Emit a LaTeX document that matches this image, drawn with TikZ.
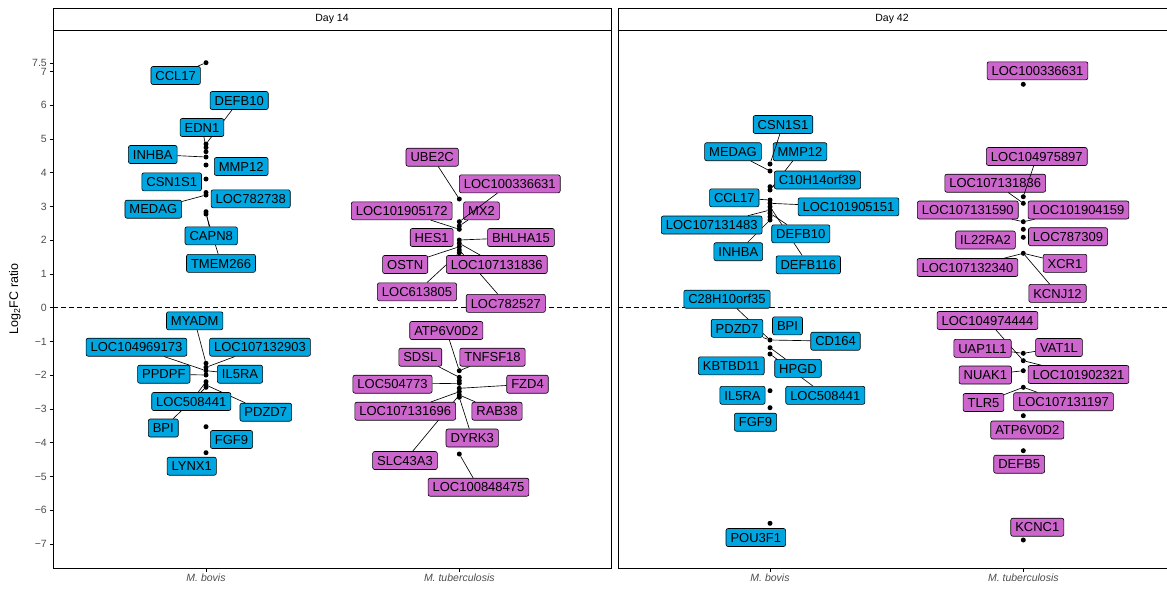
\documentclass[tikz,border=0pt]{standalone}
\usepackage{fontspec}
\setmainfont{Liberation Sans}
\definecolor{cb}{HTML}{00A6E0}
\definecolor{cm}{HTML}{CC66CC}
\definecolor{tickgrey}{HTML}{4D4D4D}
\pgfdeclarelayer{axes}\pgfdeclarelayer{pts}\pgfdeclarelayer{seg}\pgfdeclarelayer{topseg}
\pgfsetlayers{axes,pts,seg,main,topseg}
\tikzset{
 lbl/.style={draw=black, line width=0.6pt, rounded corners=2pt, inner xsep=4.5pt, inner ysep=4.3pt, text height=9.4pt, text depth=0pt, font=\fontsize{13}{13}\selectfont},
 lb/.style={lbl, fill=cb}, lm/.style={lbl, fill=cm},
 dot/.style={circle, fill=black, inner sep=0pt, minimum size=5pt},
 seg/.style={draw=black, line width=0.65pt},
 axis/.style={draw=black, line width=0.9pt},
 ticklab/.style={anchor=east, text=tickgrey, inner sep=0pt, font=\fontsize{10.5}{10.5}\selectfont},
 xlab/.style={anchor=north, text=tickgrey, inner sep=0pt, font=\fontsize{10.5}{10.5}\selectfont\itshape},
 strip/.style={inner sep=0pt, font=\fontsize{10.5}{10.5}\selectfont},
}
\begin{document}
\begin{tikzpicture}[x=1pt,y=-1pt]
\useasboundingbox (0,0) rectangle (1167,590);
\begin{pgfonlayer}{axes}
 \draw[axis] (53,8) rectangle (611,30);
 \draw[axis] (618,8) -- (1175,8) (618,8) -- (618,30) -- (1175,30);
 \draw[axis] (53,30) -- (53,568) -- (611,568) -- (611,30);
 \draw[axis] (618,30) -- (618,568) -- (1175,568);
 \draw[line width=0.7pt, dash pattern=on 4.5pt off 3.5pt] (53,307.7) -- (611,307.7);
 \draw[line width=0.7pt, dash pattern=on 4.5pt off 3.5pt] (618,307.7) -- (1175,307.7);
 \node[strip] (s1) at (332,19) {Day 14};
 \node[strip] (s2) at (892,19) {Day 42};
 \foreach \v/\t in {-7/−7,-6/−6,-5/−5,-4/−4,-3/−3,-2/−2,-1/−1,0/0,1/1,2/2,3/3,4/4,5/5,6/6,7/7}{
   \draw[axis, line width=0.6pt] (50,{307.7-33.75*\v}) -- (53,{307.7-33.75*\v});
   \node[ticklab] (yt\v) at (47,{307.7-33.75*\v}) {\t};
 }
 \draw[axis, line width=0.6pt] (50,63) -- (53,63);
 \node[ticklab] (yt75) at (47,63) {7.5};
 \foreach \x/\n in {206/xa,459.3/xb,770/xc,1023.3/xd}{
   \draw[axis, line width=0.6pt] (\x,568) -- (\x,571.5);
 }
 \node[xlab] (xla) at (206,573.5) {M. bovis};
 \node[xlab] (xlb) at (459.3,573.5) {M. tuberculosis};
 \node[xlab] (xlc) at (770,573.5) {M. bovis};
 \node[xlab] (xld) at (1023.3,573.5) {M. tuberculosis};
 \node[rotate=90, inner sep=0pt, font=\fontsize{12.5}{12.5}\selectfont] (ytitle) at (15,299) {Log\textsubscript{2}FC ratio};
\end{pgfonlayer}
\begin{pgfonlayer}{pts}
 \foreach \n/\y in {a1/62.7,a2/144,a3/147.5,a4/151.7,a5/157,a6/165,a7/179,a8/192.5,a9/195,a10/211.7,a11/214,a12/363.3,a13/367.3,a14/370.7,a15/375,a16/381.7,a17/385,a18/387.3,a19/426.7,a20/452.7}
   \node[dot] (\n) at (206,\y) {};
 \foreach \n/\y in {b1/199,b2/221.7,b3/226,b4/229.3,b5/240,b6/243.3,b7/246.7,b8/250,b9/252.7,b10/370.7,b11/377.3,b12/380.7,b13/383.3,b14/388.3,b15/391.7,b16/395,b17/397.3,b18/454}
   \node[dot] (\n) at (459.3,\y) {};
 \foreach \n/\y in {c1/164,c2/171,c3/186.7,c4/190,c5/200,c6/203.3,c7/206.7,c8/210,c9/213.3,c10/216.7,c11/220,c12/340,c13/347.7,c14/354,c15/390.7,c16/407.7,c17/523.3}
   \node[dot] (\n) at (770,\y) {};
 \foreach \n/\y in {d1/84.3,d2/196.7,d3/203.3,d4/221.7,d5/229.3,d6/237.3,d7/253.3,d8/353.3,d9/360.7,d10/370.7,d11/387.3,d12/415.7,d13/450.7,d14/540}
   \node[dot] (\n) at (1023.3,\y) {};
\end{pgfonlayer}
% ---- Day 14, M. bovis
\node[lb] (aCCL17) at (175.7,75.5) {CCL17};
\node[lb] (aDEFB10) at (239.2,100.5) {DEFB10};
\node[lb] (aEDN1) at (202,127.5) {EDN1};
\node[lb] (aINHBA) at (152.8,154.5) {INHBA};
\node[lb] (aMMP12) at (241.2,166.5) {MMP12};
\node[lb] (aCSN1S1) at (171.7,181.8) {CSN1S1};
\node[lb] (aLOC782738) at (250.7,198.8) {LOC782738};
\node[lb] (aMEDAG) at (153.3,209.2) {MEDAG};
\node[lb] (aCAPN8) at (211.2,235.8) {CAPN8};
\node[lb] (aTMEM266) at (221,263.3) {TMEM266};
\node[lb] (aMYADM) at (194.7,320.8) {MYADM};
\node[lb] (aLOC104969173) at (136.5,347.2) {LOC104969173};
\node[lb] (aLOC107132903) at (260,347.2) {LOC107132903};
\node[lb] (aPPDPF) at (163.8,374.2) {PPDPF};
\node[lb] (aIL5RA) at (240,374.2) {IL5RA};
\node[lb] (aLOC508441) at (191.3,401.5) {LOC508441};
\node[lb] (aPDZD7) at (265.8,412.2) {PDZD7};
\node[lb] (aBPI) at (163.3,428) {BPI};
\node[lb] (aFGF9) at (231.5,439.5) {FGF9};
\node[lb] (aLYNX1) at (191.7,466.2) {LYNX1};
% ---- Day 14, M. tuberculosis
\node[lm] (bUBE2C) at (432.2,157.2) {UBE2C};
\node[lm] (bLOC100336631) at (509.8,183.8) {LOC100336631};
\node[lm] (bLOC101905172) at (401.7,210.8) {LOC101905172};
\node[lm] (bMX2) at (481.5,210.8) {MX2};
\node[lm] (bHES1) at (431.7,237.5) {HES1};
\node[lm] (bBHLHA15) at (521,237.5) {BHLHA15};
\node[lm] (bOSTN) at (405.2,264.5) {OSTN};
\node[lm] (bLOC107131836) at (496.8,264.5) {LOC107131836};
\node[lm] (bLOC613805) at (417,291.8) {LOC613805};
\node[lm] (bLOC782527) at (505.8,303.3) {LOC782527};
\node[lm] (bATP6V0D2) at (446.3,330.5) {ATP6V0D2};
\node[lm] (bSDSL) at (420.3,357.2) {SDSL};
\node[lm] (bTNFSF18) at (492.5,357.2) {TNFSF18};
\node[lm] (bLOC504773) at (392.5,384.2) {LOC504773};
\node[lm] (bFZD4) at (527.5,384.2) {FZD4};
\node[lm] (bLOC107131696) at (405.2,411.2) {LOC107131696};
\node[lm] (bRAB38) at (497,411.2) {RAB38};
\node[lm] (bDYRK3) at (472.2,438) {DYRK3};
\node[lm] (bSLC43A3) at (405,460.5) {SLC43A3};
\node[lm] (bLOC100848475) at (478.5,487.2) {LOC100848475};
% ---- Day 42, M. bovis
\node[lb] (cCSN1S1) at (783,124.5) {CSN1S1};
\node[lb] (cMEDAG) at (733,151.7) {MEDAG};
\node[lb] (cMMP12) at (800,151.7) {MMP12};
\node[lb] (cC10H14orf39) at (817.5,180) {C10H14orf39};
\node[lb] (cCCL17) at (734.3,197.8) {CCL17};
\node[lb] (cLOC101905151) at (848.5,206.8) {LOC101905151};
\node[lb] (cLOC107131483) at (711.7,225) {LOC107131483};
\node[lb] (cDEFB10) at (800.8,233.8) {DEFB10};
\node[lb] (cINHBA) at (738.3,251.7) {INHBA};
\node[lb] (cDEFB116) at (808.3,264.8) {DEFB116};
\node[lb] (cC28H10orf35) at (727,299.2) {C28H10orf35};
\node[lb] (cPDZD7) at (737,328.3) {PDZD7};
\node[lb] (cBPI) at (787.5,325.8) {BPI};
\node[lb] (cCD164) at (835.5,341.2) {CD164};
\node[lb] (cKBTBD11) at (731.3,365.8) {KBTBD11};
\node[lb] (cHPGD) at (798,368.3) {HPGD};
\node[lb] (cLOC508441) at (825.3,395.3) {LOC508441};
\node[lb] (cIL5RA) at (742.5,395.3) {IL5RA};
\node[lb] (cFGF9) at (755.5,422.2) {FGF9};
\node[lb] (cPOU3F1) at (755.8,537.5) {POU3F1};
% ---- Day 42, M. tuberculosis
\node[lm] (dLOC100336631) at (1037.5,70.8) {LOC100336631};
\node[lm] (dLOC104975897) at (1036.8,156.5) {LOC104975897};
\node[lm] (dLOC107131836) at (995.2,183.2) {LOC107131836};
\node[lm] (dLOC107131590) at (967.8,210) {LOC107131590};
\node[lm] (dLOC101904159) at (1078.5,210) {LOC101904159};
\node[lm] (dIL22RA2) at (985.5,240) {IL22RA2};
\node[lm] (dLOC787309) at (1068,236.7) {LOC787309};
\node[lm] (dLOC107132340) at (967.5,267.5) {LOC107132340};
\node[lm] (dXCR1) at (1065,263.3) {XCR1};
\node[lm] (dKCNJ12) at (1057.5,293.3) {KCNJ12};
\node[lm] (dLOC104974444) at (987.5,320.5) {LOC104974444};
\node[lm] (dUAP1L1) at (982.5,348.3) {UAP1L1};
\node[lm] (dVAT1L) at (1059,347.5) {VAT1L};
\node[lm] (dNUAK1) at (985.3,375) {NUAK1};
\node[lm] (dLOC101902321) at (1078.5,374.5) {LOC101902321};
\node[lm] (dTLR5) at (983.5,402.5) {TLR5};
\node[lm] (dLOC107131197) at (1063.5,401.7) {LOC107131197};
\node[lm] (dATP6V0D2) at (1027.3,430) {ATP6V0D2};
\node[lm] (dDEFB5) at (1019.2,464.2) {DEFB5};
\node[lm] (dKCNC1) at (1037.3,527.2) {KCNC1};
\begin{pgfonlayer}{seg}
 \foreach \p/\l in {a1/aCCL17,a2/aDEFB10,a3/aEDN1,a5/aINHBA,a9/aMEDAG,a10/aCAPN8,a11/aTMEM266,
   a12/aMYADM,a14/aLOC104969173,a13/aLOC107132903,a15/aPPDPF,a14/aIL5RA,a16/aLOC508441,a17/aPDZD7,a18/aBPI,
   b1/bUBE2C,b3/bMX2,b4/bLOC101905172,b5/bBHLHA15,b7/bOSTN,b6/bLOC107131836,b9/bLOC613805,b8/bLOC782527,
   b10/bATP6V0D2,b11/bSDSL,b10/bTNFSF18,b13/bLOC504773,b14/bFZD4,b15/bLOC107131696,b16/bRAB38,b17/bDYRK3,b16/bSLC43A3,b18/bLOC100848475,
   c2/cMEDAG,c4/cMMP12,c3/cC10H14orf39,c5/cCCL17,c6/cLOC101905151,c8/cLOC107131483,c9/cDEFB10,c11/cINHBA,c7/cDEFB116,
   c12/cC28H10orf35,c12/cPDZD7,c12/cCD164,c13/cHPGD,c14/cLOC508441,
   d3/dLOC107131836,d4/dLOC107131590,d4/dLOC101904159,d7/dLOC107132340,d7/dXCR1,d7/dKCNJ12,
   d9/dLOC104974444,d8/dUAP1L1,d8/dVAT1L,d10/dNUAK1,d9/dLOC101902321,d11/dTLR5,d11/dLOC107131197}
   \draw[seg] (\p) -- (\l);
\end{pgfonlayer}
\begin{pgfonlayer}{topseg}
 \draw[seg] (b2) -- (bLOC100336631);
 \draw[seg] (c1) -- (cCSN1S1);
 \draw[seg] (d2) -- (dLOC104975897);
\end{pgfonlayer}
\end{tikzpicture}
\end{document}
